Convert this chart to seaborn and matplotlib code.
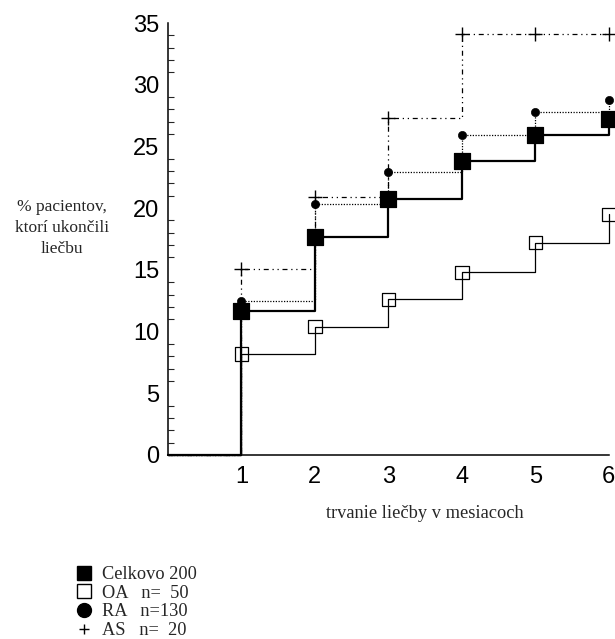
import numpy as np
import pandas as pd
import matplotlib
matplotlib.use("Agg")
import matplotlib.pyplot as plt
import seaborn as sns
from matplotlib.lines import Line2D
from matplotlib.ticker import MultipleLocator

# values (% of patients who ended treatment)
months = [0, 1, 2, 3, 4, 5, 6]
celkovo = [0, 11.7, 17.7, 20.7, 23.8, 25.9, 27.2]
oa = [0, 8.2, 10.4, 12.6, 14.8, 17.2, 19.5]
ra = [0, 12.5, 20.3, 22.9, 25.9, 27.8, 28.8]
as_ = [0, 15.1, 20.9, 27.3, 34.1, 34.1, 34.1]

labels = ["Celkovo 200", "OA   n=  50", "RA   n=130", "AS   n=  20"]
tick_months = [1, 2, 3, 4, 5, 6]

sns.set_style("white")
plt.rcParams["font.family"] = ["Liberation Sans", "DejaVu Sans"]

fig = plt.figure(figsize=(6.15, 6.39), dpi=100)
ax = fig.add_axes([0.273, 0.288, 0.717, 0.676])

# series: (values, line kwargs, marker kwargs)
series = [
    (as_, dict(lw=0.9, dashes=(4, 3, 1, 3, 1, 3)),
     dict(marker="+", s=110, color="black", linewidths=1.0)),
    (ra, dict(lw=0.9, dashes=(1, 1.2)),
     dict(marker="o", s=35, color="black", edgecolor="black")),
    (oa, dict(lw=0.9),
     dict(marker="s", s=95, facecolor="none", edgecolor="black", linewidths=0.9)),
    (celkovo, dict(lw=1.6),
     dict(marker="s", s=120, color="black", edgecolor="black")),
]

for vals, lkw, mkw in series:
    sns.lineplot(x=months, y=vals, ax=ax, color="black", drawstyle="steps-post",
                 estimator=None, clip_on=False, **lkw)
    sns.scatterplot(x=months[1:], y=vals[1:], ax=ax, clip_on=False, zorder=5, **mkw)

ax.set_xlim(0, 6)
ax.set_ylim(0, 35)
ax.set_xticks(tick_months)
ax.set_yticks(range(0, 36, 5))
ax.yaxis.set_minor_locator(MultipleLocator(1))

for side in ["top", "right"]:
    ax.spines[side].set_visible(False)
for side in ["left", "bottom"]:
    ax.spines[side].set_linewidth(1.1)
    ax.spines[side].set_color("black")

ax.tick_params(axis="both", which="major", direction="in", length=8, width=1,
               labelsize=17, pad=8, colors="black")
ax.tick_params(axis="y", which="minor", direction="in", length=4, width=0.8,
               left=True)
ax.tick_params(axis="y", which="major", pad=6)

serif = ["Liberation Serif", "DejaVu Serif"]
ax.set_xlabel("trvanie liečby v mesiacoch", family=serif, fontsize=13.2, labelpad=16)
ax.xaxis.set_label_coords(3.5 / 6, -0.115)
ax.set_ylabel("")
fig.text(0.101, 0.643, "% pacientov,\nktorí ukončili\nliečbu", family=serif,
         fontsize=12.5, ha="center", va="center", linespacing=1.4)

handles = [
    Line2D([], [], marker="s", color="black", linestyle="none", markersize=10),
    Line2D([], [], marker="s", markerfacecolor="none", markeredgecolor="black",
           linestyle="none", markersize=10),
    Line2D([], [], marker="o", color="black", linestyle="none", markersize=10),
    Line2D([], [], marker="+", color="black", linestyle="none", markersize=7),
]
fig.legend(handles, labels, loc="upper left", bbox_to_anchor=(0.122, 0.114),
           frameon=False, handletextpad=0.45, labelspacing=0.09, handlelength=1.0,
           borderaxespad=0, borderpad=0,
           prop={"family": serif, "size": 13.2})

fig.savefig("out.png", dpi=100)
